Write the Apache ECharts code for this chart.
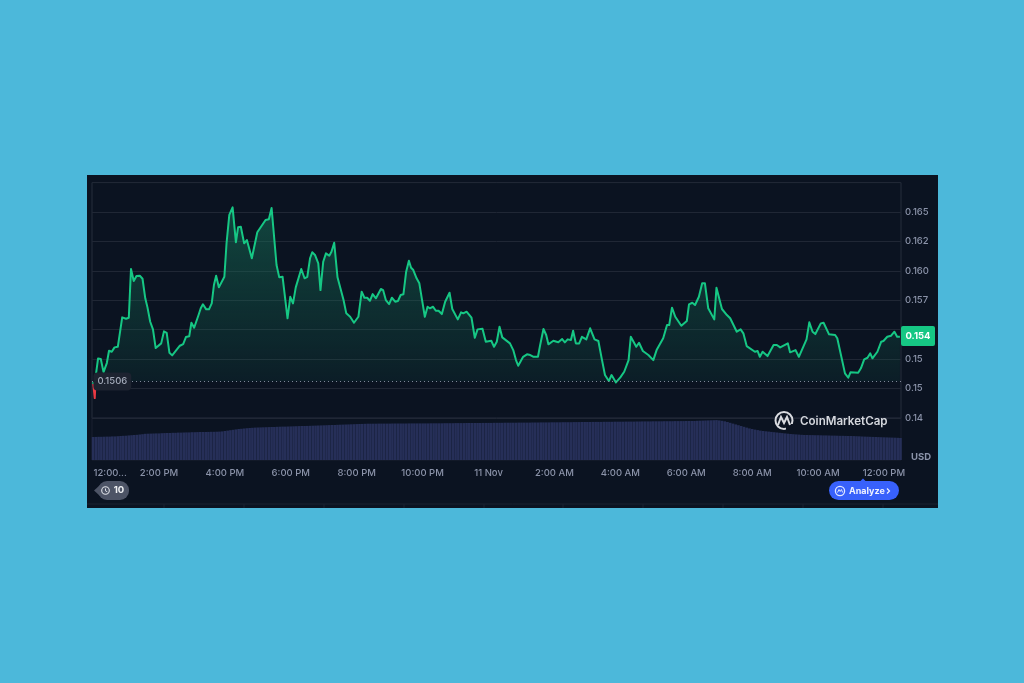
<!DOCTYPE html>
<html>
<head>
<meta charset="utf-8">
<style>
html,body{margin:0;padding:0;width:1024px;height:683px;overflow:hidden;background:#4cb8da}
#panel{position:absolute;left:87px;top:175px;width:851px;height:333px;background:#0b1321}
#chart{position:absolute;left:0;top:0;width:1024px;height:683px}
</style>
<script src="https://cdn.jsdelivr.net/npm/echarts@6/dist/echarts.min.js"></script>
</head>
<body>
<div id="panel"></div>
<div id="chart"></div>
<script>
// Minutes after the 12:00 PM open of each price reading
const priceMinutes = [0,3,5,9,14,19,25,29,34,39,45,53,60,65,69,74,79,85,90,95,99,104,109,114,124,129,134,139,144,158,164,169,175,179,184,192,196,200,206,211,216,220,224,229,239,243,248,254,260,264,269,275,280,289,299,314,320,325,334,339,345,354,359,364,369,379,385,390,395,399,404,410,414,419,424,430,434,439,445,456,461,468,471,475,483,489,494,499,504,509,515,524,528,533,539,544,550,555,560,565,570,575,579,583,589,594,599,604,609,613,619,624,629,635,641,649,654,664,670,674,680,689,695,700,709,715,725,730,735,740,745,759,765,770,774,783,790,796,802,810,814,820,825,829,838,847,854,859,864,870,874,879,885,890,898,905,913,920,926,932,939,944,952,960,967,975,979,989,994,1001,1011,1020,1026,1038,1045,1049,1054,1060,1071,1081,1085,1091,1096,1103,1109,1114,1120,1131,1135,1145,1154,1160,1172,1179,1184,1190,1205,1210,1214,1219,1228,1239,1245,1251,1265,1269,1279,1285,1299,1304,1310,1315,1325,1330,1340,1351,1355,1369,1375,1379,1393,1398,1404,1410,1415,1419,1428,1435,1439,1446,1453,1459,1464,1469];
const prices = [0.15055,0.14919,0.15115,0.15255,0.15251,0.15140,0.15217,0.15321,0.15313,0.15350,0.15355,0.15605,0.15593,0.15602,0.16016,0.15914,0.15956,0.15959,0.15933,0.15767,0.15690,0.15568,0.15503,0.15344,0.15384,0.15486,0.15474,0.15304,0.15282,0.15364,0.15378,0.15438,0.15444,0.15559,0.15517,0.15625,0.15682,0.15716,0.15673,0.15673,0.15724,0.15880,0.15959,0.15860,0.15950,0.16237,0.16475,0.16540,0.16243,0.16370,0.16375,0.16234,0.16262,0.16107,0.16328,0.16432,0.16438,0.16534,0.16050,0.15945,0.15950,0.15597,0.15780,0.15724,0.15860,0.16016,0.15937,0.15950,0.16107,0.16158,0.16135,0.16064,0.15837,0.16078,0.16149,0.16129,0.16163,0.16239,0.15945,0.15752,0.15639,0.15610,0.15619,0.15559,0.15610,0.15823,0.15772,0.15772,0.15746,0.15803,0.15767,0.15846,0.15837,0.15752,0.15718,0.15772,0.15738,0.15744,0.15795,0.15801,0.15993,0.16086,0.16027,0.16007,0.15937,0.15894,0.15752,0.15610,0.15695,0.15682,0.15695,0.15661,0.15661,0.15633,0.15738,0.15814,0.15676,0.15588,0.15648,0.15639,0.15653,0.15602,0.15432,0.15503,0.15508,0.15398,0.15406,0.15355,0.15398,0.15525,0.15435,0.15384,0.15327,0.15242,0.15194,0.15270,0.15291,0.15285,0.15270,0.15270,0.15370,0.15506,0.15455,0.15376,0.15406,0.15393,0.15421,0.15393,0.15418,0.15412,0.15491,0.15384,0.15384,0.15440,0.15418,0.15512,0.15418,0.15404,0.15257,0.15115,0.15064,0.15115,0.15052,0.15095,0.15143,0.15242,0.15440,0.15355,0.15389,0.15319,0.15285,0.15242,0.15327,0.15427,0.15540,0.15540,0.15687,0.15610,0.15534,0.15574,0.15716,0.15729,0.15710,0.15780,0.15894,0.15894,0.15682,0.15588,0.15857,0.15676,0.15625,0.15597,0.15483,0.15503,0.15469,0.15361,0.15313,0.15319,0.15270,0.15313,0.15276,0.15370,0.15370,0.15350,0.15384,0.15308,0.15327,0.15270,0.15418,0.15563,0.15483,0.15463,0.15554,0.15559,0.15461,0.15455,0.15427,0.15129,0.15092,0.15138,0.15134,0.15172,0.15248,0.15262,0.15299,0.15257,0.15313,0.15398,0.15404,0.15440,0.15449,0.15483,0.15440,0.15440];
// Volume reading for each 5-minute bar
const volumes = [
23.0,23.1,23.2,23.2,23.3,23.4,23.4,23.6,23.6,23.8,24.0,24.2,24.3,24.6,24.8,25.0,25.2,25.5,25.8,26.2,
26.3,26.4,26.5,26.6,26.6,26.8,26.9,27.0,27.0,27.2,27.2,27.4,27.4,27.5,27.6,27.6,27.8,27.8,27.9,28.0,
28.0,28.0,28.1,28.2,28.2,28.3,28.4,28.6,29.0,29.4,29.8,30.2,30.6,31.0,31.2,31.5,31.8,32.0,32.2,32.4,
32.5,32.6,32.7,32.8,32.9,33.0,33.0,33.2,33.3,33.4,33.4,33.5,33.6,33.7,33.8,33.9,34.0,34.0,34.1,34.2,
34.3,34.4,34.5,34.6,34.7,34.8,34.9,35.0,35.0,35.2,35.3,35.4,35.5,35.6,35.7,35.8,35.9,36.0,36.1,36.2,
36.3,36.3,36.3,36.3,36.4,36.4,36.4,36.4,36.4,36.5,36.5,36.5,36.5,36.5,36.5,36.6,36.6,36.6,36.6,36.6,
36.6,36.6,36.6,36.7,36.7,36.7,36.7,36.7,36.8,36.8,36.8,36.8,36.9,36.9,36.9,36.9,37.0,37.0,37.0,37.0,
37.0,37.0,37.1,37.1,37.1,37.1,37.2,37.2,37.2,37.2,37.3,37.3,37.3,37.3,37.3,37.4,37.4,37.4,37.4,37.4,
37.5,37.5,37.5,37.6,37.6,37.6,37.6,37.7,37.7,37.7,37.7,37.8,37.8,37.8,37.8,37.9,37.9,37.9,38.0,38.0,
38.0,38.0,38.1,38.1,38.1,38.1,38.2,38.2,38.2,38.2,38.3,38.3,38.3,38.3,38.4,38.4,38.4,38.4,38.5,38.5,
38.6,38.6,38.6,38.6,38.7,38.7,38.7,38.7,38.8,38.8,38.8,38.8,38.9,38.9,38.9,38.9,39.0,39.0,39.0,39.0,
39.2,39.3,39.4,39.5,39.6,39.7,39.8,39.9,39.6,39.2,38.7,38.0,37.2,36.4,35.6,34.8,34.0,33.2,32.4,31.6,
31.0,30.4,29.9,29.4,29.0,28.7,28.4,28.1,27.8,27.5,27.2,26.9,26.6,26.3,26.0,25.8,25.6,25.4,25.2,25.0,
25.0,24.9,24.9,24.8,24.8,24.7,24.6,24.6,24.5,24.4,24.4,24.3,24.2,24.2,24.1,24.0,24.0,23.9,23.8,23.7,
23.5,23.4,23.3,23.2,23.1,23.0,22.9,22.8,22.7,22.6,22.5,22.4,22.3,22.2,22.0
];
const tickMinutes = [31,120,240,360,480,600,720,840,960,1080,1200,1320,1440];
const tickLabels = ['12:00...','2:00 PM','4:00 PM','6:00 PM','8:00 PM','10:00 PM','11 Nov','2:00 AM','4:00 AM','6:00 AM','8:00 AM','10:00 AM','12:00 PM'];
const priceTicks = {'0.1650':'0.165','0.1625':'0.162','0.1600':'0.160','0.1575':'0.157','0.1525':'0.15','0.1500':'0.15','0.1475':'0.14'};
const baselinePrice = 0.1506;
const baselineLabel = '0.1506';
const lastPriceLabel = '0.154';
const currencyLabel = 'USD';
const brandLabel = 'CoinMarketCap';
const historyLabel = '10';
const analyzeLabel = 'Analyze';

const FONT = 'Inter, "Noto Sans", sans-serif';
const AXIS_TEXT = '#8b93a9';
const LINE = '#202735';
const chart = echarts.init(document.getElementById('chart'), null, {renderer:'canvas', width:1024, height:683});

// the stroke turns red below the baseline: gradient stop placed from the data range
const hi = Math.max(...prices), lo = Math.min(...prices);
const split = (hi - baselinePrice) / (hi - lo);
const strokeGradient = new echarts.graphic.LinearGradient(0,0,0,1,[
  {offset:0,color:'#16c784'},{offset:split,color:'#16c784'},{offset:split,color:'#ea3943'},{offset:1,color:'#ea3943'}]);

const bottomTicks = [];
[164,244,324,404,484,563,643,723,803,883].forEach(x => bottomTicks.push({type:'line',z:5,shape:{x1:x,y1:504,x2:x,y2:508},style:{stroke:'#1a2230',lineWidth:1}}));

chart.setOption({
  backgroundColor:'transparent',
  animation:false,
  textStyle:{fontFamily:FONT},
  grid:[
    {left:92,width:809,top:182.6,height:235.4,show:true,borderColor:'#262e3c',borderWidth:1,backgroundColor:'transparent'},
    {left:92,width:809,top:418,height:42,show:true,borderColor:'#1a2130',borderWidth:1,backgroundColor:'transparent'}
  ],
  xAxis:[
    {type:'value',gridIndex:0,min:-2,max:1471,axisLine:{show:false},axisTick:{show:false},axisLabel:{show:false},splitLine:{show:false}},
    {type:'value',gridIndex:1,min:-2,max:1471,axisLine:{show:false},axisTick:{show:false},splitLine:{show:false},
      axisLabel:{customValues:tickMinutes,margin:8,fontSize:9.5,fontWeight:500,color:AXIS_TEXT,fontFamily:FONT,hideOverlap:false,
        formatter:v=>tickLabels[tickMinutes.indexOf(v)]}}
  ],
  yAxis:[
    {type:'value',gridIndex:0,position:'right',min:0.1475,max:0.1675,interval:0.0025,
      axisLine:{show:false},axisTick:{show:false},
      splitLine:{show:true,lineStyle:{color:LINE,width:1}},
      axisLabel:{margin:4,fontSize:9.5,fontWeight:500,color:AXIS_TEXT,fontFamily:FONT,padding:[2,0,0,0],formatter:v=>priceTicks[v.toFixed(4)]||''}},
    {type:'value',gridIndex:1,min:0,max:42,show:false}
  ],
  series:[
    {type:'line',xAxisIndex:0,yAxisIndex:0,showSymbol:false,symbol:'none',silent:true,
      data:priceMinutes.map((m,i)=>[m,prices[i]]),
      lineStyle:{width:2,join:'round',color:strokeGradient},
      areaStyle:{origin:baselinePrice,color:new echarts.graphic.LinearGradient(0,0,0,1,[
        {offset:0,color:'rgba(24,120,92,0.72)'},{offset:1,color:'rgba(22,120,90,0.10)'}])},
      markLine:{silent:true,symbol:'none',precision:4,label:{show:false},
        lineStyle:{type:[1,3],color:'#7f8799',width:1},data:[{yAxis:baselinePrice}]},
      markPoint:{silent:true,symbol:'circle',symbolSize:1,itemStyle:{color:'transparent'},
        data:[{coord:[35,baselinePrice]}],
        label:{show:true,position:'inside',formatter:baselineLabel,color:'#a3aab9',fontSize:9.5,fontWeight:500,fontFamily:FONT,
          backgroundColor:'#1d2330',borderRadius:4,padding:[5,4,3,4]}}
    },
    {type:'bar',xAxisIndex:1,yAxisIndex:1,silent:true,barWidth:2.6,
      data:volumes.map((v,i)=>[i*5,v]),
      itemStyle:{color:'#262f58'}}
  ],
  graphic:{elements:[
    {type:'rect',z:100,shape:{x:901,y:326,width:34,height:20,r:2},style:{fill:'#16c784'}},
    {type:'text',z:101,style:{x:918,y:336,text:lastPriceLabel,fill:'#fff',font:'bold 9.5px '+FONT,align:'center',verticalAlign:'middle'}},
    {type:'text',z:101,style:{x:921,y:457,text:currencyLabel,fill:AXIS_TEXT,font:'bold 9.5px '+FONT,align:'center',verticalAlign:'middle'}},
    {type:'circle',z:100,shape:{cx:784,cy:420.5,r:8.5},style:{fill:'none',stroke:'#d9dbe0',lineWidth:2}},
    {type:'rect',z:100,shape:{x:786,y:424,width:8,height:7},style:{fill:'#0b1321'}},
    {type:'polyline',z:101,shape:{points:[[778,425],[781,417],[784,423],[787,417],[790,425]]},style:{fill:'none',stroke:'#d9dbe0',lineWidth:2}},
    {type:'text',z:101,style:{x:800,y:421.5,text:brandLabel,fill:'#d5d8de',font:'600 11.6px '+FONT,verticalAlign:'middle'}},
    {type:'rect',z:100,shape:{x:98,y:481,width:31,height:19,r:9},style:{fill:'#4d5466'}},
    {type:'polygon',z:100,shape:{points:[[94,490.5],[100,485],[100,496]]},style:{fill:'#4d5466'}},
    {type:'circle',z:101,shape:{cx:105.5,cy:490.5,r:3.8},style:{fill:'none',stroke:'#dfe2e8',lineWidth:1.1}},
    {type:'polyline',z:101,shape:{points:[[105.5,488.5],[105.5,490.8],[107.3,491.8]]},style:{fill:'none',stroke:'#dfe2e8',lineWidth:1}},
    {type:'text',z:101,style:{x:119,y:490.5,text:historyLabel,fill:'#eef0f3',font:'bold 9.5px '+FONT,align:'center',verticalAlign:'middle'}},
    {type:'rect',z:100,shape:{x:829,y:481,width:70,height:19,r:9.5},style:{fill:'#3861fb'}},
    {type:'polygon',z:100,shape:{points:[[860,481.5],[863,478.5],[866,481.5]]},style:{fill:'#3861fb'}},
    {type:'circle',z:101,shape:{cx:840,cy:491,r:4.6},style:{fill:'none',stroke:'#dfe6ff',lineWidth:1.3}},
    {type:'polyline',z:101,shape:{points:[[837.5,492.5],[839,489.5],[840.2,491.5],[841.4,489.5],[842.7,492.5]]},style:{fill:'none',stroke:'#dfe6ff',lineWidth:1}},
    {type:'text',z:101,style:{x:849,y:491,text:analyzeLabel,fill:'#eef2ff',font:'bold 9px '+FONT,verticalAlign:'middle'}},
    {type:'polyline',z:101,shape:{points:[[887,488.5],[889.5,491],[887,493.5]]},style:{fill:'none',stroke:'#eef2ff',lineWidth:1.2}},
    {type:'line',z:5,shape:{x1:87,y1:504,x2:938,y2:504},style:{stroke:'#1a2230',lineWidth:1}}
  ].concat(bottomTicks)}
});
</script>
</body>
</html>
